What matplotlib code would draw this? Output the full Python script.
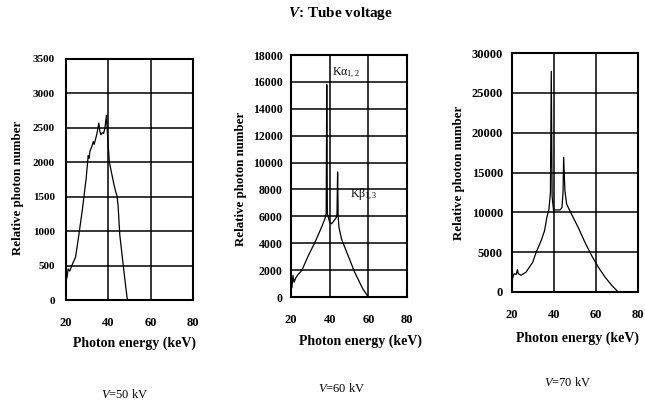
import matplotlib
matplotlib.use("Agg")
import matplotlib.pyplot as plt

plt.rcParams["font.family"] = ["Liberation Serif", "DejaVu Serif"]
plt.rcParams["mathtext.fontset"] = "custom"
plt.rcParams["mathtext.it"] = "Liberation Serif:italic"
plt.rcParams["mathtext.rm"] = "Liberation Serif"
plt.rcParams["mathtext.bf"] = "Liberation Serif:bold:italic"

# V = 50 kV
energy_50 = [20.0, 20.5, 21.0, 21.8, 23.0, 24.5, 26.1, 27.8, 29.5, 30.5, 30.9, 31.3,
             32.2, 32.9, 33.3, 34.5, 35.0, 35.5, 36.0, 36.5, 37.2, 37.8, 38.4, 39.1,
             39.8, 40.5, 41.5, 42.7, 43.6, 44.2, 44.4, 44.6, 45.4, 46.8, 48.0, 49.0]
count_50 = [290, 330, 450, 420, 520, 620, 950, 1330, 1760, 2100, 2060, 2160,
            2230, 2300, 2260, 2400, 2480, 2570, 2450, 2400, 2430, 2420, 2500, 2680,
            2300, 2000, 1850, 1670, 1560, 1500, 1420, 1380, 950, 570, 250, 0]

# V = 60 kV
energy_60 = [20.0, 20.5, 21.0, 21.6, 22.4, 23.5, 25.6, 29.0, 32.4, 35.8, 37.5, 38.2,
             38.5, 38.8, 39.3, 40.0, 41.0, 42.3, 43.4, 43.8, 44.1, 44.4, 44.8, 46.1,
             49.5, 52.9, 57.1, 60.0]
count_60 = [600, 700, 1600, 1100, 1400, 1650, 1975, 3090, 4070, 5190, 5800, 6200,
            15800, 6200, 5930, 5560, 5450, 5680, 5900, 6200, 9300, 6000, 5200, 4320,
            3090, 1850, 620, 0]

# V = 70 kV
energy_70 = [20.0, 20.5, 21.0, 22.0, 22.6, 23.0, 24.3, 26.7, 29.9, 31.5, 33.9, 35.5,
             36.6, 37.6, 38.3, 38.7, 39.1, 39.8, 40.5, 42.9, 43.8, 44.3, 44.6, 45.2,
             46.0, 48.3, 51.5, 54.7, 57.9, 61.1, 64.3, 67.5, 69.8, 70.5]
count_70 = [1500, 1900, 2300, 2200, 2800, 2300, 2100, 2500, 3750, 5000, 6460, 7700,
            9375, 10400, 12500, 27700, 12000, 10200, 10300, 10300, 10600, 12500, 16900, 12700,
            11040, 9790, 8125, 6250, 4580, 3125, 1875, 830, 210, 0]

x_ticks = [20, 40, 60, 80]
y_ticks_50 = [0, 500, 1000, 1500, 2000, 2500, 3000, 3500]
y_ticks_60 = [0, 2000, 4000, 6000, 8000, 10000, 12000, 14000, 16000, 18000]
y_ticks_70 = [0, 5000, 10000, 15000, 20000, 25000, 30000]

W, H = 645, 405
fig = plt.figure(figsize=(W / 100, H / 100), dpi=100)


def rect(l, r, t, b):
    return [l / W, (H - b) / H, (r - l) / W, (b - t) / H]


# axes rect, data, y ticks, ylabel coords, xlabel coords, ytick pad, ytick size
panels = [
    (rect(66, 193, 59, 300), energy_50, count_50, y_ticks_50, (-0.33, 0.465), (0.54, -0.15), 8, 8),
    (rect(291, 407, 55, 297), energy_60, count_60, y_ticks_60, (-0.38, 0.49), (0.595, -0.155), 6, 8.5),
    (rect(512, 638, 53, 292), energy_70, count_70, y_ticks_70, (-0.37, 0.50), (0.52, -0.165), 6.5, 9),
]

axes = []
for r, x, y, yt, ylc, xlc, ypad, ysize in panels:
    ax = fig.add_axes(r)
    ax.plot(x, y, color="black", lw=0.9)
    ax.set_xlim(20, 80)
    ax.set_ylim(yt[0], yt[-1])
    ax.set_xticks(x_ticks)
    ax.set_yticks(yt)
    ax.grid(True, color="black", lw=1.1)
    for s in ax.spines.values():
        s.set_linewidth(1.5)
    ax.tick_params(length=0)
    ax.tick_params(axis="x", pad=12, labelsize=9)
    ax.tick_params(axis="y", pad=ypad, labelsize=ysize)
    for lab in ax.get_xticklabels() + ax.get_yticklabels():
        lab.set_fontweight("bold")
        lab.set_clip_on(False)
    ax.set_ylabel("Relative photon number", fontsize=9.3, fontweight="bold")
    ax.set_xlabel("Photon energy (keV)", fontsize=10, fontweight="bold")
    ax.yaxis.set_label_coords(*ylc)
    ax.xaxis.set_label_coords(*xlc)
    axes.append(ax)

axes[1].text(41.2, 16660, r"Kα$_{1,2}$", fontsize=8.5, va="center", ha="left")
axes[1].text(50.5, 7660, r"Kβ$_{1,3}$", fontsize=8.5, va="center", ha="left")

fig.text(340 / W, 1 - 14 / H, r"$\mathbf{V}$: Tube voltage", ha="center", va="center",
         fontsize=11, fontweight="bold")
fig.text(125 / W, 1 - 394 / H, r"$V$=50 kV", ha="center", va="center", fontsize=9)
fig.text(342 / W, 1 - 389 / H, r"$V$=60 kV", ha="center", va="center", fontsize=9)
fig.text(568 / W, 1 - 382 / H, r"$V$=70 kV", ha="center", va="center", fontsize=9)

fig.savefig("out.png", dpi=100)
